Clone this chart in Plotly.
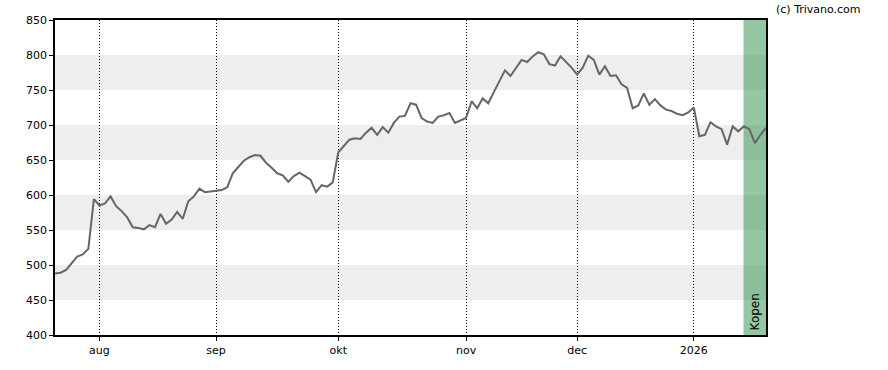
import pandas as pd
import plotly.graph_objects as go

# ---- data ----
start_date = "2025-07-22"
end_date = "2026-01-21"
holidays = ["2025-12-25", "2025-12-26", "2026-01-01"]

prices = [
    488, 489, 493, 502, 512, 515, 523, 594, 585, 588,
    598, 584, 577, 568, 554, 553, 551, 557, 554, 573,
    559, 565, 576, 566, 591, 598, 609, 604, 605, 607,
    607, 611, 631, 640, 649, 654, 657, 656, 646, 639,
    631, 628, 619, 627, 632, 627, 622, 604, 614, 612,
    618, 661, 670, 679, 681, 680, 689, 696, 686, 697,
    689, 703, 712, 713, 731, 729, 710, 705, 703, 712,
    714, 717, 703, 707, 710, 734, 724, 738, 731, 747,
    763, 778, 770, 782, 793, 790, 798, 804, 801, 787,
    785, 798, 790, 782, 772, 782, 799, 793, 772, 784,
    770, 771, 758, 753, 724, 728, 745, 729, 737, 728,
    722, 720, 716, 714, 718, 725, 684, 686, 704, 698,
    694, 672, 698, 691, 698, 694, 674, 686, 696,
]

tick_dates = ["2025-08-01", "2025-09-01", "2025-10-01", "2025-11-03", "2025-12-01", "2026-01-02"]
tick_labels = ["aug", "sep", "okt", "nov", "dec", "2026"]

signal_start = "2026-01-15"
signal_label = "Kopen"

band_ranges = [(450, 500), (550, 600), (650, 700), (750, 800)]
y_range = [400, 850]
y_ticks = list(range(400, 851, 50))

# ---- build ----
dates = [d.strftime("%Y-%m-%d") for d in pd.bdate_range(start_date, end_date) if d.strftime("%Y-%m-%d") not in holidays]
n = len(dates)
x_idx = list(range(n))
tick_idx = [dates.index(d) for d in tick_dates]
sig_idx = dates.index(signal_start)

FONT = "DejaVu Sans"

fig = go.Figure()
fig.add_trace(go.Scatter(
    x=x_idx, y=prices[:n], mode="lines",
    line=dict(color="#666666", width=2),
    hoverinfo="skip", showlegend=False,
))

for y0, y1 in band_ranges:
    fig.add_shape(type="rect", xref="paper", yref="y", x0=0, x1=1, y0=y0, y1=y1,
                  fillcolor="#eeeeee", line=dict(width=0), layer="below")

fig.add_shape(type="rect", xref="x", yref="paper", x0=sig_idx - 0.05, x1=n - 1, y0=0, y1=1,
              fillcolor="rgba(30,135,62,0.47)", line=dict(width=0), layer="below")

fig.add_annotation(x=(sig_idx + n - 1) / 2, y=y_range[0], xref="x", yref="y",
                   text=signal_label, textangle=-90, showarrow=False,
                   xanchor="center", yanchor="bottom", yshift=3,
                   font=dict(family=FONT, size=12, color="#000000"))

fig.add_annotation(x=1, y=1, xref="paper", yref="paper", xanchor="left", yanchor="bottom",
                   xshift=8, yshift=2, text="(c) Trivano.com", showarrow=False,
                   font=dict(family=FONT, size=11, color="#000000"))

fig.update_layout(
    width=888, height=370,
    margin=dict(l=55, r=122, t=20, b=35),
    plot_bgcolor="#ffffff", paper_bgcolor="#ffffff",
    font=dict(family=FONT, size=11, color="#000000"),
    xaxis=dict(
        range=[0, n - 1], tickmode="array", tickvals=tick_idx, ticktext=tick_labels,
        showgrid=True, gridcolor="#000000", griddash="1px,2px", gridwidth=1,
        showline=True, linecolor="#000000", linewidth=1.5, mirror=True,
        ticks="outside", ticklen=4, tickcolor="#000000", zeroline=False,
    ),
    yaxis=dict(
        range=y_range, tickmode="array", tickvals=y_ticks,
        showgrid=False, showline=True, linecolor="#000000", linewidth=1.5, mirror=True,
        ticks="outside", ticklen=4, tickcolor="#000000", zeroline=False,
    ),
)

fig.write_html("out.html")
